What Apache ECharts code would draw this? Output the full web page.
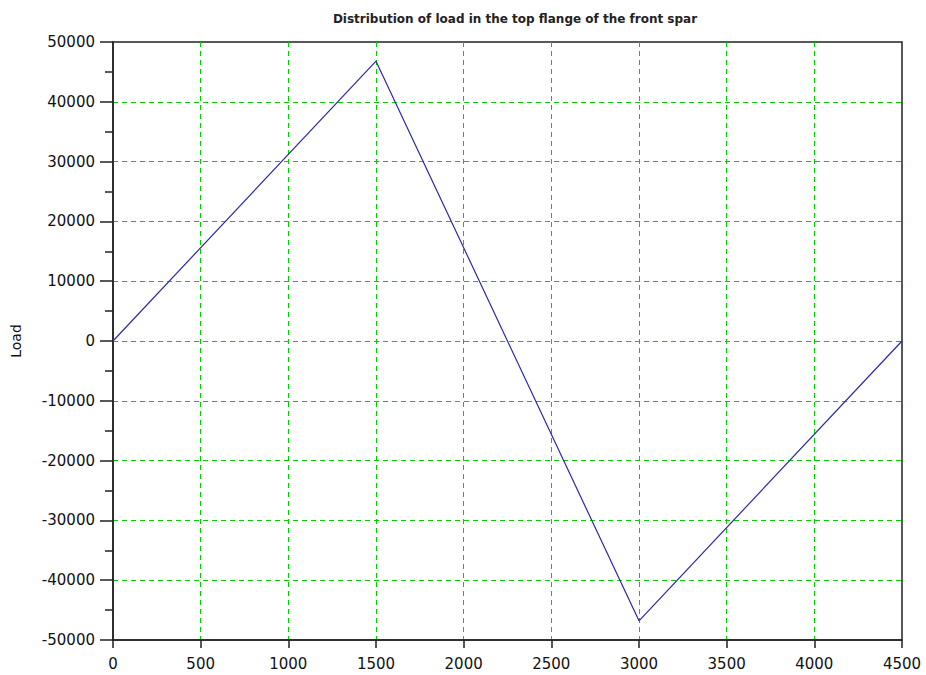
<!DOCTYPE html>
<html>
<head>
<meta charset="utf-8">
<script src="https://cdn.jsdelivr.net/npm/echarts@6/dist/echarts.min.js"></script>
<style>
  html, body { margin: 0; padding: 0; background: #fff; }
  #chart { width: 926px; height: 675px; }
</style>
</head>
<body>
<div id="chart"></div>
<script>
// Spar station positions and the load carried by the top flange
const positions = [0, 1500, 3000, 4500];
const loads = [0, 46800, -46800, 0];

const chartTitle = 'Distribution of load in the top flange of the front spar';
const yAxisTitle = 'Load';

const points = positions.map((p, i) => [p, loads[i]]);

const chart = echarts.init(document.getElementById('chart'), null, { renderer: 'svg' });
const makeGrid = () => ({
  show: true, showMinLine: false, showMaxLine: false,
  lineStyle: { color: '#00d000', opacity: 1, type: [5, 4], width: 1 }
});
const makeFont = () => ({ color: '#111', fontFamily: 'DejaVu Sans, sans-serif', fontSize: 15 });
const plain = v => String(v);

chart.setOption({
  animation: false,
  backgroundColor: '#fff',
  title: {
    text: chartTitle,
    left: 510, top: 8, textAlign: 'center',
    textStyle: { fontSize: 12, fontWeight: 'bold', color: '#222', fontFamily: 'DejaVu Sans, sans-serif' }
  },
  grid: {
    left: 113, right: 24, top: 42, bottom: 35,
    outerBoundsMode: 'none', containLabel: false,
    show: true, borderColor: '#222', borderWidth: 1.5
  },
  xAxis: {
    type: 'value', min: 0, max: 4500, interval: 500,
    axisLine: { show: true, onZero: false, lineStyle: { color: '#222', width: 1.5 } },
    axisTick: { show: true, inside: false, length: 8, lineStyle: { color: '#222', width: 1.5 } },
    axisLabel: Object.assign({ margin: 16, formatter: plain }, makeFont()),
    splitLine: makeGrid()
  },
  yAxis: {
    type: 'value', min: -50000, max: 50000, interval: 10000,
    name: yAxisTitle, nameLocation: 'middle', nameGap: 90, nameRotate: 90,
    nameTextStyle: { fontSize: 14, color: '#111', fontFamily: 'DejaVu Sans, sans-serif' },
    axisLine: { show: true, onZero: false, lineStyle: { color: '#222', width: 1.5 } },
    axisTick: { show: true, inside: false, length: 13, lineStyle: { color: '#222', width: 1.5 } },
    minorTick: { show: true, splitNumber: 2, length: 8, lineStyle: { color: '#222', width: 1.5 } },
    axisLabel: Object.assign({ margin: 18, formatter: plain }, makeFont()),
    splitLine: makeGrid()
  },
  series: [{
    type: 'line',
    data: points,
    symbol: 'none',
    lineStyle: { color: '#2a2aa8', width: 1.2 }
  }]
});
</script>
</body>
</html>
